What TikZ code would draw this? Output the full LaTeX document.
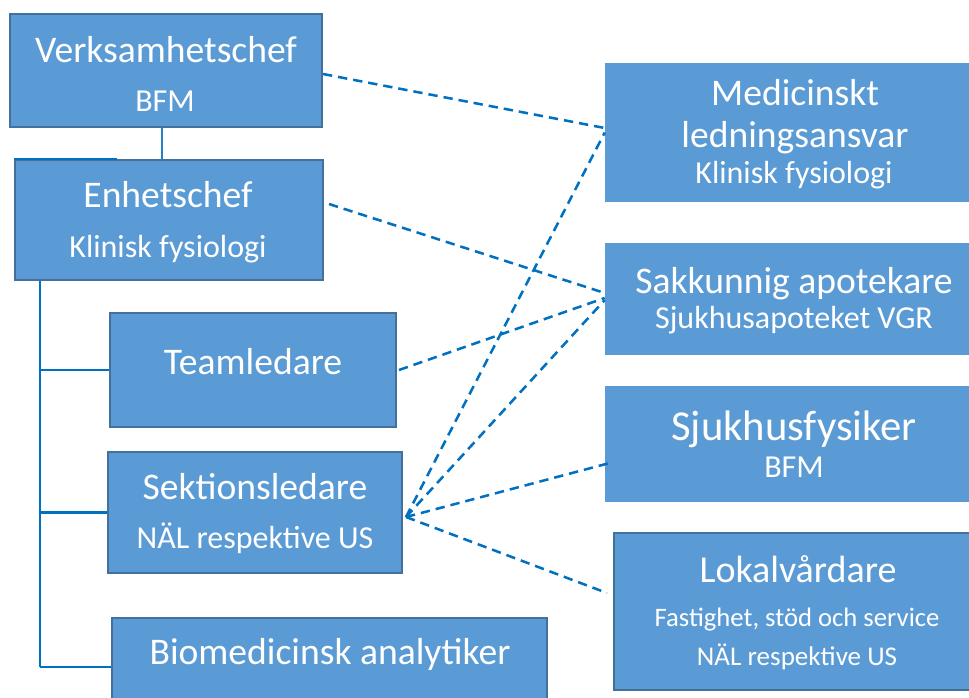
\documentclass[tikz,border=0pt]{standalone}
\usepackage{fontspec}
\setmainfont{Carlito}
\usetikzlibrary{calc}
\definecolor{boxfill}{HTML}{5B9BD5}
\definecolor{boxline}{HTML}{41719C}
\definecolor{conn}{HTML}{0070C0}
\tikzset{
  orgbox/.style={rectangle, fill=boxfill, draw=boxline, line width=1.5pt, inner sep=0pt},
  flatbox/.style={rectangle, fill=boxfill, draw=none, inner sep=0pt},
  txt/.style={anchor=base, text=white, inner sep=0pt},
  big/.style={font=\fontsize{28.2}{31}\selectfont},
  small/.style={font=\fontsize{24}{27}\selectfont},
  link/.style={conn, line width=1.9pt, dash pattern=on 7pt off 4.5pt},
  tree/.style={conn, line width=1.9pt},
}
\begin{document}
\begin{tikzpicture}[x=0.75pt, y=-0.75pt]
\useasboundingbox (0,0) rectangle (969,697);
\clip (0,0) rectangle (969,697);
% boxes
\node[orgbox, minimum width=234pt, minimum height=84.75pt] (vc) at (166,70.5) {};
\node[orgbox, minimum width=231pt, minimum height=90pt] (ec) at (169,220) {};
\node[orgbox, minimum width=214.5pt, minimum height=85.5pt] (tl) at (253,370) {};
\node[orgbox, minimum width=220.5pt, minimum height=90.75pt] (sl) at (255,512.5) {};
\node[orgbox, minimum width=326.25pt, minimum height=86.25pt] (ba) at (329.5,675.5) {};
\node[flatbox, minimum width=283.5pt, minimum height=104.25pt] (ml) at (794,132.5) {};
\node[flatbox, minimum width=283.5pt, minimum height=84pt] (sa) at (794,299) {};
\node[flatbox, minimum width=283.5pt, minimum height=87pt] (sf) at (794,444) {};
\node[orgbox, minimum width=274.5pt, minimum height=117.75pt] (lv) at (797,611.5) {};
% texts
\node[txt, big] (vct) at (166,62) {Verksamhetschef};
\node[txt, small] (vcs) at (165,111) {BFM};
\node[txt, big] (ect) at (168,207) {Enhetschef};
\node[txt, small] (ecs) at (168,257) {Klinisk fysiologi};
\node[txt, big] (tlt) at (253,374) {Teamledare};
\node[txt, big] (slt) at (255,499) {Sektionsledare};
\node[txt, small] (sls) at (255,548) {NÄL respektive US};
\node[txt, big] (bat) at (330,664) {Biomedicinsk analytiker};
\node[txt, big] (mlt1) at (795,105) {Medicinskt};
\node[txt, big] (mlt2) at (795,147) {ledningsansvar};
\node[txt, small] (mls) at (794,183) {Klinisk fysiologi};
\node[txt, big] (sat) at (794,293) {Sakkunnig apotekare};
\node[txt, small] (sas) at (794,328) {Sjukhusapoteket VGR};
\node[txt, font=\fontsize{32}{35}\selectfont] (sft) at (794,440) {Sjukhusfysiker};
\node[txt, small] (sfs) at (794,477) {BFM};
\node[txt, font=\fontsize{28.5}{31}\selectfont] (lvt) at (798,582) {Lokalvårdare};
\node[txt, font=\fontsize{20}{23}\selectfont] (lvs1) at (797,626) {Fastighet, stöd och service};
\node[txt, font=\fontsize{20.3}{23}\selectfont] (lvs2) at (797,665) {NÄL respektive US};
% tree connectors
\draw[conn!60!boxfill, line width=1.4pt] (vc.south -| 162,0) -- (ec.north -| 162,0);
\draw[tree] (ec.north west) -- ($(ec.north west)+(103,0)$);
\coordinate (trunktop) at (ec.south -| 40,0);
\coordinate (trunkbot) at (ba.west -| 40,0);
\draw[tree] (trunktop) -- ($(trunkbot)+(0,-8.5)$);
\draw[tree] (tl.west -| 40,0) -- (tl.west);
\draw[tree] (sl.west -| 40,0) -- (sl.west);
\draw[tree] ($(ba.west -| 40,0)+(0,-8.5)$) -- ($(ba.west)+(0,-8.5)$);
% dashed links
\coordinate (slp) at ($(sl.east)+(3,4.5)$);
\draw[link] ($(vc.east)+(0,3.5)$) -- ($(ml.west)+(0,-4.5)$);
\draw[link] ($(ec.east)+(5,-16)$) -- ($(sa.west)+(0,-6)$);
\draw[link] ($(tl.east)+(2,0)$) -- ($(sa.west)+(0,-1)$);
\draw[link] (slp) -- ($(ml.west)+(0,0)$);
\draw[link] (slp) -- ($(sa.west)+(0,1)$);
\draw[link] (slp) -- ($(sf.west)+(5,19)$);
\draw[link] (slp) -- ($(lv.west)+(-6,-18.5)$);
\end{tikzpicture}
\end{document}
